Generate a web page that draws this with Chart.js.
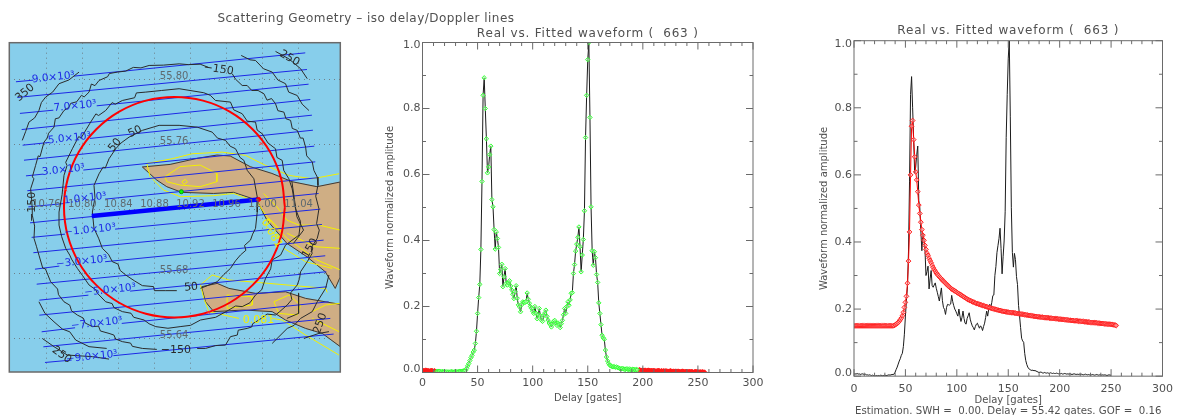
<!DOCTYPE html>
<html>
<head>
<meta charset="utf-8">
<script src="https://cdn.jsdelivr.net/npm/chart.js@4"></script>
<style>
html,body{margin:0;padding:0;background:#fff;width:1179px;height:419px;overflow:hidden}
canvas{position:absolute;display:block}
</style>
</head>
<body>
<canvas id="map" style="left:0;top:0" width="732" height="419"></canvas>
<canvas id="wave" style="left:380px;top:22px" width="390" height="397"></canvas>
<canvas id="fit" style="left:810px;top:20px" width="369" height="395"></canvas>
<script>
/* ---------- waveform data (index = gate) ---------- */
const waveform = [
.006,.007,.006,.008,.006,.007,.005,.006,.007,.006,
.005,.006,.004,.004,.003,.004,.003,.002,.003,.002,
.002,.001,.002,.001,.002,.001,.003,.002,.001,.002,
.003,.002,.002,.003,.004,.003,.004,.005,.005,.006,
.012,.02,.027,.036,.045,.052,.062,.068,.088,.125,
.179,.227,.267,.373,.579,.84,.893,.80,.708,.605,
.623,.66,.686,.524,.502,.433,.374,.426,.406,.379,
.30,.312,.328,.26,.29,.315,.27,.265,.272,.278,
.262,.25,.237,.224,.245,.263,.225,.205,.199,.184,
.205,.214,.213,.212,.215,.241,.222,.21,.2,.194,
.186,.179,.2,.18,.163,.175,.194,.172,.158,.155,
.172,.18,.189,.17,.159,.15,.145,.138,.148,.155,
.158,.15,.143,.15,.146,.136,.148,.158,.175,.194,
.179,.2,.214,.204,.22,.24,.242,.30,.327,.368,
.389,.41,.441,.381,.305,.356,.403,.49,.712,.84,
.948,1.0,.773,.502,.369,.325,.366,.348,.297,.273,
.211,.179,.145,.113,.105,.101,.068,.047,.035,.027,
.022,.02,.018,.017,.018,.016,.017,.015,.014,.012,
.011,.012,.012,.01,.009,.011,.01,.009,.01,.009,
.008,.01,.009,.008,.009,.008,.008,.009,.008,.007,
.008,.007,.008,.006,.007,.008,.007,.006,.007,.006,
.007,.006,.005,.006,.007,.006,.005,.006,.005,.006,
.005,.006,.005,.004,.005,.006,.005,.004,.005,.004,
.005,.004,.005,.004,.003,.004,.005,.004,.003,.004,
.004,.003,.004,.003,.004,.003,.002,.003,.004,.003,
.003,.002,.003,.002,.003,.002,.002];
const fitted = [
.15,.15,.15,.15,.15,.15,.15,.15,.15,.15,
.15,.15,.15,.15,.15,.15,.15,.15,.15,.15,
.15,.15,.15,.15,.15,.15,.15,.15,.15,.15,
.15,.15,.15,.15,.15,.15,.15,.15,.15,.151,
.153,.155,.157,.16,.164,.168,.173,.18,.19,.205,
.22,.238,.277,.343,.43,.6,.745,.762,.705,.654,
.609,.585,.55,.51,.485,.459,.437,.42,.405,.39,
.378,.367,.36,.352,.345,.338,.331,.324,.318,.313,
.308,.304,.3,.296,.293,.29,.286,.283,.28,.277,
.274,.271,.268,.265,.262,.26,.258,.256,.254,.252,
.25,.248,.246,.244,.242,.24,.238,.236,.234,.232,
.23,.228,.227,.225,.224,.222,.221,.22,.218,.217,
.216,.215,.214,.213,.212,.211,.21,.209,.208,.207,
.206,.205,.204,.203,.202,.201,.2,.2,.199,.198,
.197,.196,.196,.195,.194,.193,.193,.192,.192,.191,
.191,.19,.19,.19,.189,.189,.188,.188,.187,.187,
.186,.186,.185,.185,.184,.184,.183,.183,.182,.182,
.181,.181,.18,.18,.179,.179,.178,.178,.177,.177,
.177,.176,.176,.176,.175,.175,.175,.174,.174,.174,
.173,.173,.173,.172,.172,.172,.171,.171,.171,.17,
.17,.17,.169,.169,.169,.168,.168,.168,.167,.167,
.167,.166,.166,.166,.165,.165,.165,.165,.164,.164,
.164,.163,.163,.163,.162,.162,.162,.161,.161,.161,
.16,.16,.16,.16,.159,.159,.159,.158,.158,.158,
.157,.157,.157,.156,.156,.156,.155,.155,.155,.155,
.154,.154,.153,.153,.152,.151];
const inWindowFirst = 13, inWindowLast = 195;
const xTicksLabelled = [0,50,100,150,200,250,300];
const waveTitle = 'Real vs. Fitted waveform (  663 )';
const estimationText = 'Estimation. SWH =  0.00. Delay = 55.42 gates. GOF =  0.16';
const mapTitle = 'Scattering Geometry \u2013 iso delay/Doppler lines';

/* ---------- map data, [longitude, latitude] ---------- */
const lonTicks = [10.76,10.80,10.84,10.88,10.92,10.96,11.00,11.04];
const latTicks = [55.64,55.68,55.72,55.76,55.80];
const lonLabels = ['10.76','10.80','10.84','10.88','10.92','10.96','11.00','11.04'];
const latLabels = ['55.64','55.68','55.76','55.80'];
const landNorth = [[10.8666,55.7461],[10.8974,55.7477],[10.9270,55.7514],[10.9493,55.7535],[10.9641,55.7529],[10.9863,55.7463],[11.0104,55.7421],[11.0326,55.7370],[11.0604,55.7339],[11.0863,55.7368],[11.0863,55.6781],[11.0807,55.6709],[11.0696,55.6812],[11.0492,55.6905],[11.0270,55.6988],[11.0048,55.7132],[10.9937,55.7256],[10.9678,55.7304],[10.9455,55.7297],[10.9104,55.7304],[10.8937,55.7339],[10.8826,55.7380],[10.8666,55.7461]];
const landSouth = [[10.9322,55.6719],[10.9496,55.6740],[10.9626,55.6709],[10.9922,55.6678],[11.0255,55.6688],[11.0478,55.6647],[11.0863,55.6610],[11.0863,55.6348],[11.0663,55.6430],[11.0478,55.6461],[11.0255,55.6513],[11.0107,55.6565],[10.9792,55.6575],[10.9459,55.6565],[10.9367,55.6626],[10.9322,55.6719]];
const yellowContours = [
 [[10.8715,55.7483],[10.8996,55.7512],[10.9218,55.7543],[10.9552,55.7553],[10.9811,55.7533],[11.0033,55.7471],[11.0292,55.7409],[11.0552,55.7388],[11.0848,55.7419]],
 [[10.8715,55.7483],[10.8752,55.7401],[10.8900,55.7318],[10.9085,55.7277],[10.9455,55.7283],[10.9678,55.7297],[10.9937,55.7246],[11.0048,55.7153],[11.0270,55.7019],[11.0604,55.6885],[11.0863,55.6823]],
 [[10.8918,55.7401],[10.9085,55.7463],[10.9307,55.7473],[10.9493,55.7421],[10.9493,55.7370],[10.9307,55.7339],[10.9085,55.7349],[10.8937,55.7370],[10.8918,55.7401]],
 [[10.9104,55.7370],[10.9141,55.7384],[10.9167,55.7370],[10.9130,55.7353],[10.9104,55.7370]],
 [[11.0033,55.7101],[11.0181,55.7019],[11.0218,55.7060],[11.0070,55.7143],[11.0033,55.7101]],
 [[11.0011,55.7297],[11.0159,55.7215],[11.0270,55.7132],[11.0404,55.7101],[11.0626,55.7101],[11.0863,55.7070]],
 [[11.0274,55.7050],[11.0589,55.6967],[11.0863,55.6957]],
 [[11.0237,55.6957],[11.0478,55.6874],[11.0774,55.6833]],
 [[10.9311,55.6730],[10.9441,55.6792],[10.9626,55.6761],[11.0070,55.6740],[11.0700,55.6709],[11.0718,55.6684]],
 [[10.9311,55.6730],[10.9348,55.6647],[10.9404,55.6565],[10.9737,55.6523]],
 [[11.0107,55.6523],[11.0218,55.6513],[11.0478,55.6420],[11.0848,55.6296]],
 [[10.9607,55.6668],[10.9885,55.6657],[10.9885,55.6606],[10.9607,55.6585],[10.9607,55.6668]],
 [[11.0126,55.6626],[11.0292,55.6668],[11.0422,55.6606],[11.0385,55.6544],[11.0181,55.6554],[11.0126,55.6626]],
 [[11.0552,55.6565],[11.0700,55.6606],[11.0863,55.6617]],
 [[11.0552,55.6523],[11.0848,55.6441]]
];
const dopplerSegments = [
 [[10.7263,55.7989],[10.7456,55.7999]],[[10.7907,55.8024],[11.0474,55.8168]],
 [[10.7278,55.7892],[11.0493,55.8065]],
 [[10.7307,55.7793],[10.7678,55.7813]],[[10.8159,55.7840],[11.0511,55.7974]],
 [[10.7326,55.7693],[11.0530,55.7879]],
 [[10.7337,55.7596],[10.7633,55.7613]],[[10.8085,55.7638],[11.0548,55.7782]],
 [[10.7352,55.7503],[11.0559,55.7689]],
 [[10.7374,55.7406],[10.7567,55.7417]],[[10.8011,55.7442],[11.0574,55.7590]],
 [[10.7389,55.7314],[11.0585,55.7493]],
 [[10.7400,55.7214],[10.7807,55.7235]],[[10.8252,55.7262],[11.0604,55.7394]],
 [[10.7419,55.7115],[11.0622,55.7297]],
 [[10.7437,55.7025],[10.7807,55.7045]],[[10.8363,55.7076],[11.0641,55.7200]],
 [[10.7456,55.6930],[11.0659,55.7105]],
 [[10.7474,55.6828],[10.7744,55.6847]],[[10.8252,55.6874],[11.0678,55.7008]],
 [[10.7493,55.6735],[11.0696,55.6911]],
 [[10.7522,55.6636],[10.8067,55.6667]],[[10.8530,55.6692],[11.0707,55.6812]],
 [[10.7522,55.6543],[11.0715,55.6719]],
 [[10.7548,55.6440],[10.7919,55.6465]],[[10.8437,55.6492],[11.0733,55.6626]],
 [[10.7567,55.6347],[11.0752,55.6523]],
 [[10.7585,55.6250],[10.7881,55.6265]],[[10.8344,55.6292],[11.0789,55.6426]]
];
const dopplerLabels = [
 ['9.0\u00d710\u00b3',10.7678,55.8015],['7.0\u00d710\u00b3',10.7919,55.7838],
 ['5.0\u00d710\u00b3',10.7856,55.7638],['3.0\u00d710\u00b3',10.7789,55.7442],
 ['1.0\u00d710\u00b3',10.8030,55.7266],['\u22121.0\u00d710\u00b3',10.8085,55.7070],
 ['\u22123.0\u00d710\u00b3',10.7993,55.6874],['\u22125.0\u00d710\u00b3',10.8307,55.6698],
 ['\u22127.0\u00d710\u00b3',10.8159,55.6492],['\u22129.0\u00d710\u00b3',10.8104,55.6285]
];
const delayContours = [
 [[10.7444,55.7202],[10.7436,55.7262],[10.7426,55.7326],[10.7462,55.7388],[10.7445,55.7400],[10.7481,55.7471],[10.7510,55.7530],[10.7530,55.7525],[10.7574,55.7615],[10.7610,55.7640],[10.7625,55.7670],[10.7685,55.7708],[10.7700,55.7760],[10.7740,55.7765],[10.7796,55.7811],[10.7850,55.7830],[10.7870,55.7855],[10.7937,55.7865],[10.7990,55.7905],[10.8020,55.7895],[10.8074,55.7925],[10.8100,55.7975],[10.8140,55.7965],[10.8185,55.7997],[10.8280,55.8020],[10.8300,55.8040],[10.8389,55.8049],[10.8480,55.8055],[10.8566,55.8078],[10.8650,55.8075],[10.8741,55.8090],[10.8900,55.8092],[10.9074,55.8100],[10.9180,55.8095],[10.9307,55.8098],[10.9400,55.8078]],
 [[10.9663,55.8039],[10.9700,55.8005],[10.9774,55.7966],[10.9829,55.7966],[10.9880,55.7935],[10.9950,55.7935],[11.0015,55.7915],[11.0050,55.7875],[11.0100,55.7885],[11.0144,55.7853],[11.0170,55.7810],[11.0237,55.7801],[11.0260,55.7760],[11.0311,55.7750],[11.0330,55.7700],[11.0385,55.7688],[11.0420,55.7640],[11.0450,55.7640],[11.0478,55.7584],[11.0490,55.7530],[11.0552,55.7492],[11.0570,55.7440],[11.0607,55.7399],[11.0615,55.7347],[11.0590,55.7280],[11.0626,55.7202],[11.0600,55.7110],[11.0630,55.7070],[11.0607,55.7019],[11.0540,55.6960],[11.0550,55.6925],[11.0496,55.6874],[11.0422,55.6812],[11.0410,55.6770],[11.0385,55.6730],[11.0310,55.6680],[11.0325,55.6640],[11.0274,55.6606],[11.0190,55.6565],[11.0144,55.6544],[11.0050,55.6550],[10.9959,55.6513],[10.9890,55.6490],[10.9880,55.6470],[10.9829,55.6461],[10.9730,55.6450],[10.9720,55.6420],[10.9644,55.6410],[10.9589,55.6358],[10.9480,55.6355],[10.9367,55.6337],[10.9274,55.6337]],
 [[10.8826,55.6331],[10.8666,55.6337],[10.8555,55.6350],[10.8535,55.6370],[10.8444,55.6379],[10.8370,55.6395],[10.8350,55.6420],[10.8296,55.6430],[10.8200,55.6445],[10.8180,55.6475],[10.8111,55.6472],[10.8030,55.6495],[10.8010,55.6525],[10.7944,55.6544],[10.7880,55.6570],[10.7860,55.6605],[10.7796,55.6626],[10.7735,55.6670],[10.7725,55.6705],[10.7648,55.6750],[10.7590,55.6830],[10.7560,55.6835],[10.7518,55.6915],[10.7490,55.6970],[10.7463,55.7019],[10.7470,55.7095],[10.7444,55.7163],[10.7444,55.7202]],
 [[10.7741,55.7182],[10.7775,55.7290],[10.7796,55.7409],[10.7830,55.7470],[10.7815,55.7490],[10.7889,55.7574],[10.7960,55.7650],[10.7985,55.7640],[10.8092,55.7739],[10.8150,55.7790],[10.8180,55.7780],[10.8259,55.7811],[10.8330,55.7860],[10.8365,55.7850],[10.8444,55.7873],[10.8580,55.7890],[10.8600,55.7920],[10.8704,55.7925],[10.8880,55.7935],[10.9074,55.7946],[10.9348,55.7921],[10.9420,55.7905],[10.9478,55.7873],[10.9644,55.7863],[10.9680,55.7815],[10.9774,55.7791],[10.9830,55.7745],[10.9922,55.7739],[10.9940,55.7690],[10.9996,55.7667],[11.0060,55.7610],[11.0144,55.7574],[11.0160,55.7520],[11.0218,55.7502],[11.0235,55.7440],[11.0292,55.7388],[11.0329,55.7326],[11.0366,55.7202],[11.0422,55.7122],[11.0404,55.7039],[11.0255,55.6977],[11.0200,55.6915],[11.0107,55.6885],[11.0090,55.6830],[11.0033,55.6771],[10.9990,55.6700],[10.9922,55.6668],[10.9860,55.6620],[10.9774,55.6596],[10.9700,55.6600],[10.9626,55.6575],[10.9480,55.6530],[10.9311,55.6513],[10.9200,55.6480],[10.9085,55.6472],[10.8950,55.6462],[10.8815,55.6472],[10.8740,55.6490],[10.8685,55.6513],[10.8570,55.6530],[10.8540,55.6555],[10.8444,55.6565],[10.8350,55.6590],[10.8330,55.6615],[10.8259,55.6626],[10.8165,55.6680],[10.8150,55.6700],[10.8074,55.6730],[10.8000,55.6790],[10.7944,55.6833],[10.7880,55.6890],[10.7860,55.6915],[10.7815,55.6957],[10.7770,55.7030],[10.7741,55.7101],[10.7741,55.7182]],
 [[10.8111,55.7182],[10.8140,55.7270],[10.8129,55.7347],[10.8185,55.7419],[10.8230,55.7460],[10.8255,55.7455],[10.8296,55.7512],[10.8370,55.7574],[10.8430,55.7610],[10.8518,55.7646],[10.8666,55.7688],[10.8852,55.7719],[10.9074,55.7719],[10.9274,55.7708],[10.9441,55.7677],[10.9500,55.7640],[10.9589,55.7626],[10.9640,55.7590],[10.9700,55.7574],[10.9750,55.7520],[10.9793,55.7502],[10.9830,55.7440],[10.9904,55.7388],[10.9941,55.7275],[10.9941,55.7182],[10.9922,55.7081],[10.9890,55.7045],[10.9866,55.7008],[10.9800,55.6975],[10.9815,55.6945],[10.9755,55.6916],[10.9700,55.6880],[10.9644,55.6833],[10.9570,55.6795],[10.9496,55.6750],[10.9311,55.6709]],
 [[10.9048,55.6695],[10.8926,55.6695],[10.8800,55.6695],[10.8790,55.6720],[10.8666,55.6726],[10.8580,55.6755],[10.8481,55.6792],[10.8420,55.6820],[10.8395,55.6860],[10.8333,55.6874],[10.8290,55.6920],[10.8222,55.6957],[10.8180,55.7020],[10.8129,55.7081],[10.8111,55.7182]],
 [[10.7333,55.7626],[10.7370,55.7680],[10.7407,55.7739],[10.7470,55.7765],[10.7518,55.7811],[10.7545,55.7860],[10.7592,55.7894],[10.7670,55.7925],[10.7741,55.7977],[10.7850,55.8000],[10.7963,55.8049]],
 [[10.9763,55.8152],[10.9860,55.8125],[10.9922,55.8121],[11.0010,55.8070],[11.0107,55.8049],[11.0170,55.8000],[11.0255,55.7977],[11.0290,55.7925],[11.0385,55.7904],[11.0440,55.7850],[11.0515,55.7811]],
 [[11.0144,55.8177],[11.0292,55.8131],[11.0422,55.8070],[11.0496,55.8008]],
 [[10.7518,55.6626],[10.7585,55.6554],[10.7685,55.6502],[10.7778,55.6457],[10.7860,55.6440],[10.7926,55.6389],[10.8074,55.6348],[10.8270,55.6337]],
 [[10.7555,55.6399],[10.7685,55.6348],[10.7833,55.6296],[10.8111,55.6286],[10.8296,55.6271]],
 [[11.0107,55.6368],[11.0274,55.6461],[11.0350,55.6480],[11.0422,55.6523],[11.0552,55.6565],[11.0607,55.6626],[11.0700,55.6709],[11.0737,55.6792]],
 [[11.0459,55.6399],[11.0626,55.6430],[11.0737,55.6441]],
 [[11.0326,55.7370],[11.0381,55.7153],[11.0455,55.7070],[11.0344,55.6988]],
 [[11.0400,55.6678],[11.0400,55.6554],[11.0270,55.6523]]
];
const delayLabels = [
 ['350',10.7363,55.7921,-40],['50',10.8363,55.7597,-50],['50',10.8585,55.7679,-25],
 ['\u2212150',10.9511,55.8065,8],['250',11.0300,55.8134,30],['\u2212150',10.7437,55.7214,-90],
 ['50',10.9207,55.6715,-5],['\u2212150',10.9037,55.6327,0],['250',10.7770,55.6296,35],
 ['150',11.0529,55.6957,-60],['250',11.0641,55.6492,-70]
];
const sigmaLabels = [['0.081',10.9955,55.6513,0],['0.081',11.0100,55.7050,60]];
const antennaCircle = [[11.0248,55.7212],[11.0206,55.7389],[11.0084,55.7554],[10.9889,55.7695],[10.9635,55.7804],[10.9339,55.7872],[10.9022,55.7895],[10.8705,55.7872],[10.8409,55.7804],[10.8155,55.7695],[10.7960,55.7554],[10.7838,55.7389],[10.7796,55.7212],[10.7838,55.7035],[10.7960,55.6870],[10.8155,55.6729],[10.8409,55.6620],[10.8705,55.6552],[10.9022,55.6529],[10.9339,55.6552],[10.9635,55.6620],[10.9889,55.6729],[11.0084,55.6870],[11.0206,55.7035],[11.0248,55.7212]];
const circleMarks = [[10.9985,55.7606],[10.7811,55.7322],[10.9396,55.6560]];
const groundTrack = [[10.8104,55.7157],[10.9956,55.7260]];
const trackEnd = [[10.9956,55.7260]];
const specularPoint = [[10.9099,55.7308]];
const lonRange = [10.7189,11.0863], latRange = [55.6191,55.8231];

/* ---------- shared helpers ---------- */
const FONT = '"DejaVu Sans"';
const INK = '#505050', AXIS = '#6a6a6a';
const pts = a => a.map(p => ({x:p[0], y:p[1]}));
const gatePts = (a, from, to) => a.map((v,i)=>({x:i,y:v})).filter(p=>p.x>=from && p.x<=to);

const spacedTitle = spacing => ({
  id:'spacedTitle',
  afterInit(chart){
    const t=chart.titleBlock; if(!t) return;
    const d=t.draw.bind(t);
    t.draw=function(){
      const c=chart.ctx;
      if('letterSpacing' in c) c.letterSpacing=spacing;
      d();
      if('letterSpacing' in c) c.letterSpacing='0px';
    };
  }
});

const axisFrame = {
  id:'axisFrame',
  beforeDraw(chart){
    const it=chart.scales.y.getLabelItems(chart.chartArea);
    it.forEach(t=>{
      if(t.label==='0.0') t.options.translation[1]-=3;
      if(t.label==='1.0') t.options.translation[1]+=3;
    });
  },
  afterDraw(chart){
    const ctx=chart.ctx, a=chart.chartArea, sx=chart.scales.x, sy=chart.scales.y;
    ctx.save();
    ctx.strokeStyle=AXIS; ctx.lineWidth=1;
    ctx.strokeRect(a.left,a.top,a.width,a.height);
    ctx.beginPath();
    sx.ticks.forEach(t=>{
      const p=sx.getPixelForValue(t.value), l=t.value%50===0?7:3.5;
      ctx.moveTo(p,a.bottom);ctx.lineTo(p,a.bottom-l);
      ctx.moveTo(p,a.top);ctx.lineTo(p,a.top+l);
    });
    sy.ticks.forEach(t=>{
      const p=sy.getPixelForValue(t.value), l=Math.round(t.value*10)%2===0?7:3.5;
      ctx.moveTo(a.left,p);ctx.lineTo(a.left+l,p);
      ctx.moveTo(a.right,p);ctx.lineTo(a.right-l,p);
    });
    ctx.stroke();
    ctx.restore();
  }
};

function waveOptions(o){
  return {
    responsive:false, animation:false, devicePixelRatio:1,
    layout:{padding:{left:0,right:o.right,top:0,bottom:0}},
    plugins:{
      legend:{display:false}, tooltip:{enabled:false},
      title:{display:true,fullSize:false,text:waveTitle,color:INK,font:{family:FONT,size:12,weight:'normal',lineHeight:1.2},padding:{top:o.titleTop,bottom:o.titleBottom}},
      subtitle:o.sub||{display:false}
    },
    scales:{
      x:{type:'linear',min:0,max:300,
        afterFit:s=>{s.height=o.xHeight;},
        grid:{display:false,drawTicks:false},border:{display:false},
        ticks:{stepSize:10,autoSkip:false,maxRotation:0,color:INK,padding:o.xPad,font:{family:FONT,size:11},
          callback:v=>xTicksLabelled.includes(v)?String(v):''},
        title:{display:true,text:'Delay [gates]',color:INK,font:{family:FONT,size:10,lineHeight:1.2},padding:{top:0,bottom:o.xTitleBottom}}
      },
      y:{type:'linear',min:0,max:1,
        afterFit:s=>{s.width=o.yWidth;},
        grid:{display:false,drawTicks:false},border:{display:false},
        ticks:{stepSize:.1,autoSkip:false,color:INK,padding:2,font:{family:FONT,size:11},
          callback:v=>Math.round(v*10)%2===0?v.toFixed(1):''},
        title:{display:true,text:'Waveform normalized amplitude',color:INK,font:{family:FONT,size:10,lineHeight:1.2},padding:{top:o.yTitleTop,bottom:0}}
      }
    }
  };
}

/* ---------- middle panel ---------- */
new Chart(document.getElementById('wave'),{
  type:'scatter',
  data:{datasets:[
    {data:gatePts(waveform,0,256),showLine:true,borderColor:'#1c1c1c',borderWidth:1,pointRadius:0,order:2},
    {data:gatePts(waveform,inWindowFirst,inWindowLast),showLine:false,pointStyle:'rectRot',pointRadius:2.2,pointBorderWidth:1,pointBorderColor:'#33ff33',pointBackgroundColor:'rgba(190,255,190,0.5)',order:1},
    {data:gatePts(waveform,0,inWindowFirst-1),showLine:false,pointStyle:'rectRot',pointRadius:2,pointBorderWidth:1,pointBorderColor:'#ff1a1a',pointBackgroundColor:'#ff1a1a',order:1},
    {data:gatePts(waveform,inWindowLast+1,256),showLine:false,pointStyle:'rectRot',pointRadius:2,pointBorderWidth:1,pointBorderColor:'#ff1a1a',pointBackgroundColor:'#ff1a1a',order:1}
  ]},
  options:waveOptions({right:17,titleTop:4.5,titleBottom:1.6,xHeight:46.5,xPad:4,xTitleBottom:14.4,yWidth:42.5,yTitleTop:4}),
  plugins:[axisFrame,spacedTitle('0.8px')]
});

/* ---------- right panel ---------- */
new Chart(document.getElementById('fit'),{
  type:'scatter',
  data:{datasets:[
    {data:gatePts(waveform,0,250),showLine:true,borderColor:'#1c1c1c',borderWidth:1,pointRadius:0,order:2},
    {data:gatePts(fitted,0,255),showLine:true,borderColor:'#ff0000',borderWidth:1,pointStyle:'rectRot',pointRadius:2.4,pointBorderWidth:1,pointBorderColor:'#ff2222',pointBackgroundColor:'rgba(255,170,170,0.5)',order:1}
  ]},
  options:waveOptions({right:9,titleTop:4,titleBottom:2.3,xHeight:28.8,xPad:6,xTitleBottom:-1.5,yWidth:44,yTitleTop:8,
    sub:{display:true,fullSize:false,position:'bottom',text:estimationText,color:INK,font:{family:FONT,size:10.2,weight:'normal',lineHeight:1.2},padding:{top:0,bottom:-2.2}}}),
  plugins:[axisFrame,spacedTitle('0.8px')]
});

/* ---------- left map ---------- */
const lineSet=(a,color,width,extra)=>Object.assign({data:pts(a),showLine:true,borderColor:color,borderWidth:width,pointRadius:0,clip:true},extra||{});
const mapLayers=[];
mapLayers.push(lineSet(landNorth,'#cfae84',1,{fill:'shape',backgroundColor:'#cfae84'}));
mapLayers.push(lineSet(landSouth,'#cfae84',1,{fill:'shape',backgroundColor:'#cfae84'}));
mapLayers.push(lineSet(landNorth,'#3a3a3a',1));
mapLayers.push(lineSet(landSouth,'#3a3a3a',1));
yellowContours.forEach(c=>mapLayers.push(lineSet(c,'#f5f000',1)));
dopplerSegments.forEach(c=>mapLayers.push(lineSet(c,'#1c28e6',1)));
delayContours.forEach(c=>mapLayers.push(lineSet(c,'#2b2b2b',1)));
mapLayers.push(lineSet(antennaCircle,'#ff0000',2,{tension:.4}));
mapLayers.push({data:pts(circleMarks),showLine:false,pointStyle:'crossRot',pointRadius:2.5,pointBorderColor:'#ff3333',pointBorderWidth:1});
mapLayers.push(lineSet(groundTrack,'#0000ff',4.5));
mapLayers.push({data:pts(trackEnd),showLine:false,pointRadius:2,pointBackgroundColor:'#ff0000',pointBorderColor:'#ff0000'});
mapLayers.push({data:pts(specularPoint),showLine:false,pointRadius:2,pointBackgroundColor:'#00ff00',pointBorderColor:'#00a000',pointBorderWidth:1});
mapLayers.forEach((d,i)=>{d.order=mapLayers.length-i;});

const mapDecor={
  id:'mapDecor',
  beforeDraw(chart){
    const c=chart.ctx,a=chart.chartArea;
    c.save();c.fillStyle='#87ceeb';c.fillRect(a.left,a.top,a.width,a.height);c.restore();
  },
  afterDraw(chart){
    const c=chart.ctx,a=chart.chartArea,sx=chart.scales.x,sy=chart.scales.y;
    const put=(t,lon,lat,rot,font,col)=>{
      c.save();c.translate(sx.getPixelForValue(lon),sy.getPixelForValue(lat));c.rotate((rot||0)*Math.PI/180);
      c.font=font;c.fillStyle=col;c.textAlign='center';c.textBaseline='middle';c.fillText(t,0,0);c.restore();
    };
    c.save();c.beginPath();c.rect(a.left,a.top,a.width,a.height);c.clip();
    const grey='10px '+FONT, blue='10.5px '+FONT, dark='11px '+FONT;
    lonLabels.forEach((t,i)=>put(t,lonTicks[i],55.7231,0,grey,'#5f6a70'));
    latLabels.forEach(t=>put(t,10.9019,+t+0.0020,0,grey,'#5f6a70'));
    dopplerLabels.forEach(d=>put(d[0],d[1],d[2],-6,blue,'#1c28e6'));
    delayLabels.forEach(d=>put(d[0],d[1],d[2],d[3],dark,'#2b2b2b'));
    sigmaLabels.forEach(d=>put(d[0],d[1],d[2],d[3],dark,'#f5f000'));
    c.restore();
    c.save();c.strokeStyle='#6a6a6a';c.lineWidth=1.5;c.strokeRect(a.left,a.top,a.width,a.height);c.restore();
  }
};
new Chart(document.getElementById('map'),{
  type:'scatter',
  data:{datasets:mapLayers},
  options:{
    responsive:false,animation:false,devicePixelRatio:1,
    plugins:{legend:{display:false},tooltip:{enabled:false},
      title:{display:true,text:mapTitle,color:INK,font:{family:FONT,size:12,weight:'normal',lineHeight:1.2},padding:{top:12,bottom:16.3}}},
    scales:{
      x:{type:'linear',min:lonRange[0],max:lonRange[1],
        afterBuildTicks:s=>{s.ticks=lonTicks.map(v=>({value:v}));},
        afterFit:s=>{s.height=47;},
        ticks:{display:false},border:{display:false,dash:[1,4]},
        grid:{color:'#6f7f88',lineWidth:1,drawTicks:false}},
      y:{type:'linear',min:latRange[0],max:latRange[1],
        afterBuildTicks:s=>{s.ticks=latTicks.map(v=>({value:v}));},
        afterFit:s=>{s.width=9.3;},
        ticks:{display:false},border:{display:false,dash:[1,4]},
        grid:{color:'#6f7f88',lineWidth:1,drawTicks:false}},
      spare:{type:'linear',position:'right',display:true,
        afterFit:s=>{s.width=391.7;},
        ticks:{display:false},border:{display:false},grid:{display:false,drawOnChartArea:false}}
    }
  },
  plugins:[mapDecor,spacedTitle('0.47px')]
});
</script>
</body>
</html>
